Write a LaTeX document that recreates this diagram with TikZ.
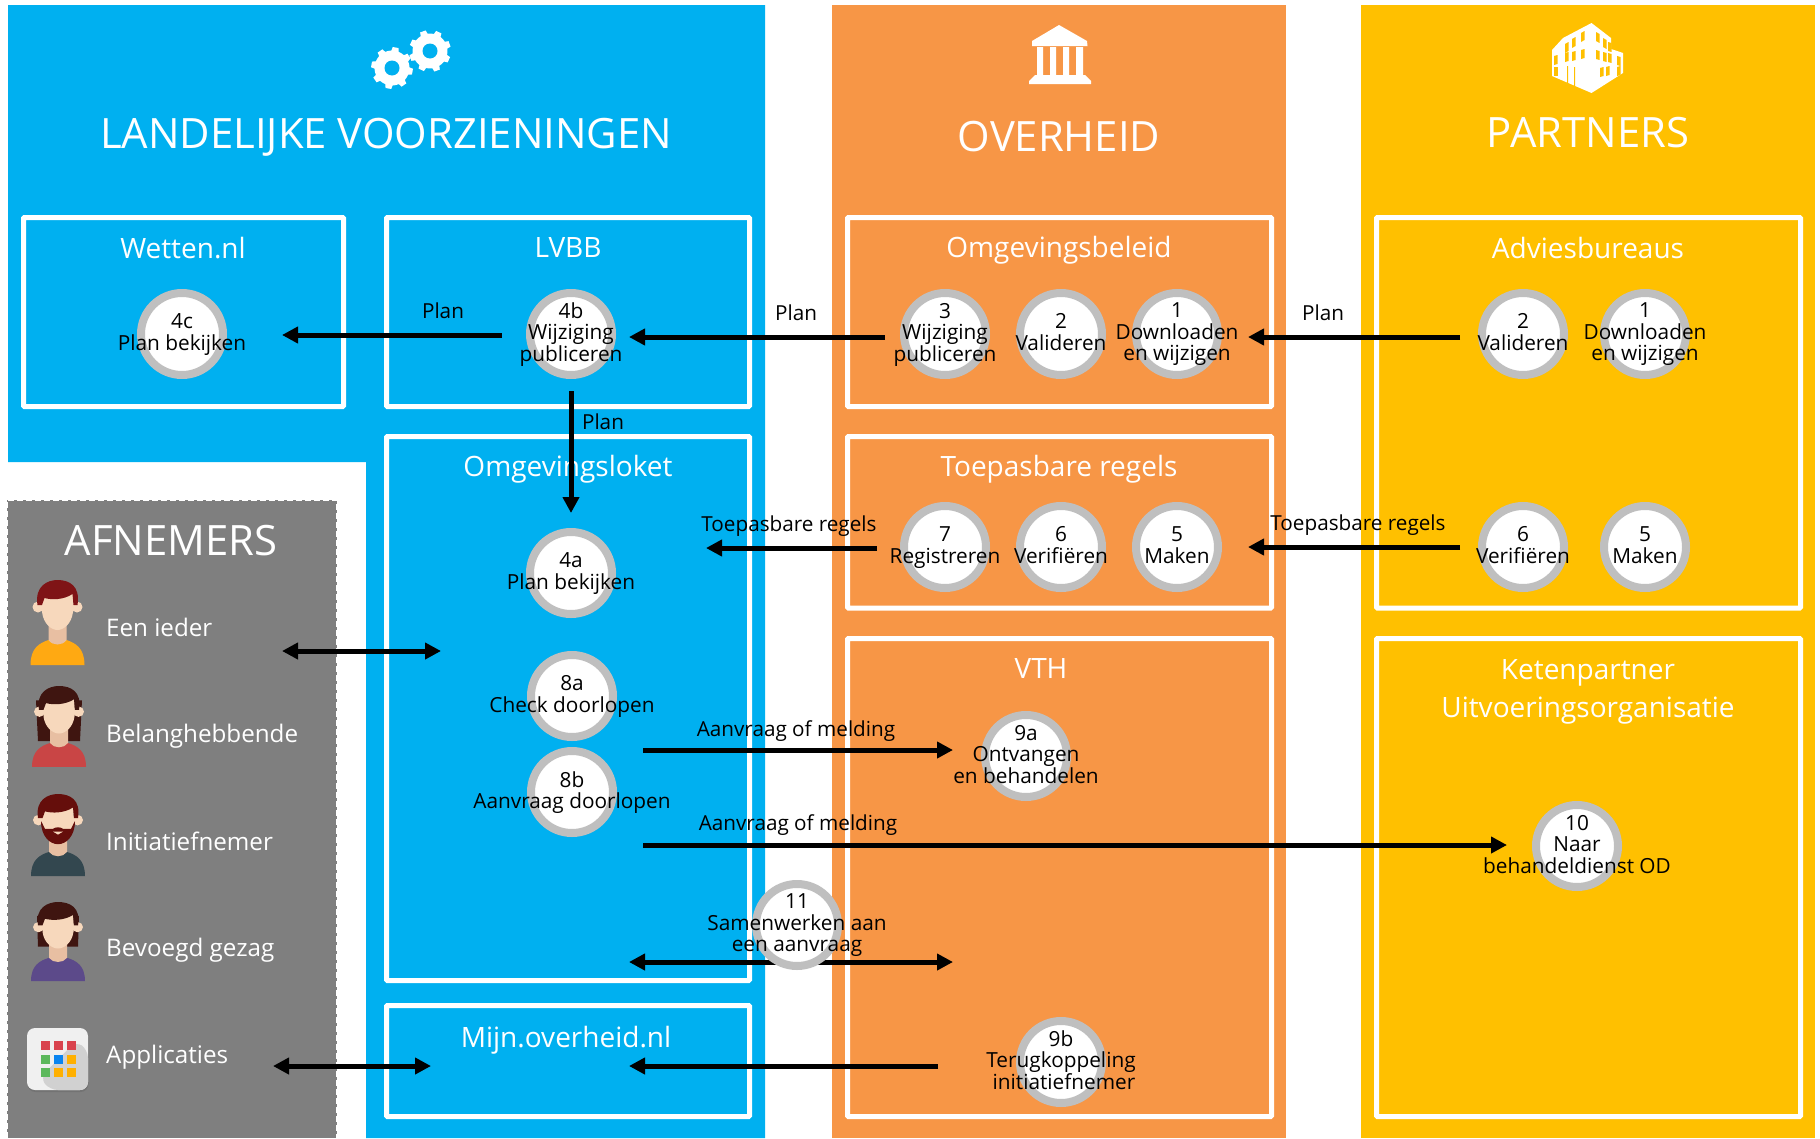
\documentclass[tikz,border=0pt]{standalone}
\usepackage{fontspec}
\setmainfont{Open Sans}
\usetikzlibrary{arrows.meta,calc}
\definecolor{pblue}{HTML}{00B0F0}
\definecolor{porange}{HTML}{F79646}
\definecolor{pyellow}{HTML}{FFC000}
\definecolor{pgrey}{HTML}{7F7F7F}
\definecolor{pring}{HTML}{BFBFBF}
\definecolor{skin}{HTML}{F7D8BC}
\definecolor{skind}{HTML}{E8BFA2}
\pgfdeclarelayer{panels}
\pgfdeclarelayer{conns}
\pgfsetlayers{panels,conns,main}
\tikzset{
  boxn/.style={draw=white,line width=5pt,rounded corners=1pt,outer sep=0pt,inner sep=0pt,anchor=north west},
  ringn/.style={circle,draw=pring,fill=white,line width=8pt,minimum size=82pt,inner sep=0pt,outer sep=0pt},
  steptxt/.style={align=center,inner sep=0pt,text=black,font=\fontsize{20.8}{21.5}\selectfont},
  arrtxt/.style={inner sep=0pt,text=black,font=\fontsize{20.7}{22}\selectfont},
  headtxt/.style={inner sep=0pt,text=white,font=\fontsize{41.8}{46}\selectfont},
  subtxt/.style={inner sep=0pt,text=white,align=center,font=\fontsize{28}{38}\selectfont},
  afntxt/.style={inner sep=0pt,text=white,anchor=west,font=\fontsize{24.2}{26}\selectfont},
  conn/.style={line width=5pt,-{Triangle[length=16pt,width=16pt]}},
  connb/.style={line width=5pt,{Triangle[length=16pt,width=16pt]}-{Triangle[length=16pt,width=16pt]}},
}
\newcommand{\bx}[5]{\node[boxn,minimum width={(#4-#2)*1pt},minimum height={(#5-#3)*1pt}] (#1) at (#2,#3) {};}
\newcommand{\stepc}[4]{\node[ringn] (#1) at (#2,#3) {};\node[steptxt] (#1t) at ([yshift=-0.5pt]#1.center) {#4\vphantom{g}};}
\newcommand{\gearicon}[3]{%
  \fill[white] ({#1+17.5*cos(-22.5+#3)},{#2+17.5*sin(-22.5+#3)}) \foreach \a in {0,45,...,315}{%
    -- ({#1+17.5*cos(\a-12+#3)},{#2+17.5*sin(\a-12+#3)})
    -- ({#1+21*cos(\a-8+#3)},{#2+21*sin(\a-8+#3)})
    -- ({#1+21*cos(\a+8+#3)},{#2+21*sin(\a+8+#3)})
    -- ({#1+17.5*cos(\a+12+#3)},{#2+17.5*sin(\a+12+#3)})
    -- ({#1+17.5*cos(\a+22.5+#3)},{#2+17.5*sin(\a+22.5+#3)})} -- cycle;
  \fill[pblue] (#1,#2) circle (7.5);}
\newcommand{\personicon}[7]{%
  \begin{scope}[shift={(#1,#2)},yscale=#3]
    #6
    \fill[#4] (-27,85) .. controls (-27,68) and (-18,63) .. (-9,60) -- (9,60) .. controls (18,63) and (27,68) .. (27,85) -- cycle;
    \fill[skind] (-9,40) -- (9,40) -- (9,60) .. controls (5,66) and (-5,66) .. (-9,60) -- cycle;
    \fill[skin] (-19.5,27) circle (5.5) (19.5,27) circle (5.5);
    \fill[skin] (-15.5,12) -- (15.5,12) -- (15.5,32) .. controls (14,44) and (6,50) .. (0,50) .. controls (-6,50) and (-14,44) .. (-15.5,32) -- cycle;
    \fill[#5] (-20,25) .. controls (-23,6) and (-10,0) .. (0,0) .. controls (12,0) and (23,6) .. (20,25) -- (16,25) -- (15,14) .. controls (6,20) and (-6,20) .. (-13,18) -- (-15.5,25) -- cycle;
    #7
  \end{scope}}
\definecolor{hairdark}{HTML}{3F1510}
\definecolor{hairred}{HTML}{7F1416}
\definecolor{hairbrown}{HTML}{650E0B}
\definecolor{shirta}{HTML}{FFA912}
\definecolor{shirtb}{HTML}{C94545}
\definecolor{shirtc}{HTML}{33474F}
\definecolor{shirtd}{HTML}{5C4A8A}
\definecolor{tilered}{HTML}{D9434E}
\definecolor{tilegreen}{HTML}{5CB85C}
\definecolor{tileblue}{HTML}{0A84F0}
\definecolor{tileorange}{HTML}{FFB000}
\begin{document}
\begin{tikzpicture}[x=1pt,y=-1pt]
\useasboundingbox (0,0) rectangle (1820,1138);
\begin{pgfonlayer}{panels}
  \fill[white] (0,0) rectangle (1820,1138);
  % panels
  \fill[pblue] (8,5) -- (765,5) -- (765,1138) -- (366,1138) -- (366,462) -- (8,462) -- cycle;
  \fill[porange] (832,5) rectangle (1286,1138);
  \fill[pyellow] (1361,5) rectangle (1815,1138);
  \node[fill=pgrey,anchor=north west,minimum width=330pt,minimum height=638pt,inner sep=0pt,outer sep=0pt] (afnpanel) at (7,500) {};
  \draw[white,line width=1.6pt,dash pattern=on 6pt off 3pt] (7,1138) -- (7,500) -- (337,500) -- (337,1138);
  % boxes
  \bx{wetten}{23.5}{217.5}{343.5}{406.5}
  \bx{lvbb}{386.5}{217.5}{749.5}{406.5}
  \bx{loket}{386.5}{436.5}{749.5}{980.5}
  \bx{mijn}{386.5}{1005.5}{749.5}{1116.5}
  \bx{beleid}{847.5}{217.5}{1271.5}{406.5}
  \bx{regels}{847.5}{436.5}{1271.5}{608}
  \bx{vth}{847.5}{638.5}{1271.5}{1116.5}
  \bx{advies}{1376.5}{217.5}{1800.5}{608}
  \bx{keten}{1376.5}{638.5}{1800.5}{1116.5}
  % headings
  \node[headtxt] (hlv) at (386,137) {LANDELIJKE VOORZIENINGEN};
  \node[headtxt] (hov) at (1059,137) {OVERHEID};
  \node[headtxt] (hpa) at (1588,133) {PARTNERS};
  \node[headtxt] (haf) at (171,541) {AFNEMERS};
  \node[subtxt] (twetten) at (183,248) {Wetten.nl};
  \node[subtxt] (tlvbb) at (568,248) {LVBB};
  \node[subtxt] (tloket) at (568,469) {Omgevingsloket};
  \node[subtxt] (tmijn) at (566,1040) {Mijn.overheid.nl};
  \node[subtxt] (tbeleid) at (1059,250) {Omgevingsbeleid};
  \node[subtxt] (tregels) at (1059,469) {Toepasbare regels};
  \node[subtxt] (tvth) at (1041,668) {VTH};
  \node[subtxt] (tadvies) at (1588,248) {Adviesbureaus};
  \node[subtxt] (tketen) at (1588,692) {Ketenpartner\\Uitvoeringsorganisatie};
  % gears
  \gearicon{392}{68}{10}
  \gearicon{430}{51}{25}
  % bank
  \fill[white] (1059,25) -- (1087,41) -- (1087.5,46) -- (1032,46) -- (1032,41) -- cycle;
  \fill[white] (1037,47) rectangle (1043,76) (1050,47) rectangle (1056,76) (1063,47) rectangle (1069,76) (1076,47) rectangle (1083,76);
  \fill[white] (1035,75) -- (1085,75) -- (1091,81) -- (1091,84) -- (1029,84) -- (1029,81) -- cycle;
  % building
  \fill[white] (1591.5,23) -- (1611,38) -- (1611,49) -- (1623,53) -- (1623,73) -- (1591.5,93) -- (1552,76) -- (1552,50) -- (1563,38) -- cycle;
  \foreach \wx/\wy/\wd in {1565/44/-2,1572/39/-2,1581/33/-2,1596/32/2,1603/38/2,1608/42/1,
      1554/56/-1,1565/53/-1,1572/52/-1,1581/50/-1,1596/50/1,1603/52/1,1608/53/1,1617/56/1,
      1554/67/0,1600/68/-1,1606/67/-1,1617/67/-1}{
    \fill[pyellow] (\wx,\wy) -- ++(3.5,\wd) -- ++(0,9) -- ++(-3.5,-\wd) -- cycle;}
  \fill[pyellow] (1567,66) rectangle (1568,86) (1574,67) rectangle (1575,88);
\end{pgfonlayer}
% afnemers icons
\personicon{57.5}{580}{1}{shirta}{hairred}{}{}
\personicon{59}{686}{0.95}{shirtb}{hairdark}{\fill[hairdark] (-23,15) -- (23,15) -- (21,58) -- (-21,58) -- cycle;}{}
\personicon{58}{794}{0.965}{shirtc}{hairbrown}{}{\fill[hairbrown] (-17,28) -- (-13,36) -- (-5,36) .. controls (-2,34) and (2,34) .. (5,36) -- (13,36) -- (17,28) .. controls (17,44) and (8,52) .. (0,52) .. controls (-8,52) and (-17,44) .. (-17,28) -- cycle;\fill[skin] (-5,39) -- (5,39) -- (0,42) -- cycle;}
\personicon{58}{902}{0.93}{shirtd}{hairdark}{\fill[hairdark] (-21,15) -- (21,15) -- (20,48) -- (-20,48) -- cycle;}{}
\fill[black!55,rounded corners=8pt] (27.5,1030) rectangle (88.5,1092);
\fill[black!6,rounded corners=8pt] (27,1028) rectangle (88,1090);
\fill[black!18,rounded corners=8pt] (88,1050) -- (88,1090) -- (50,1090) -- (40,1078) -- (76,1041) -- cycle;
\foreach \sx/\sy/\sc in {41/1041/tilered,54/1041/tilered,67/1041/tilered,
    41/1055/tilegreen,54/1055/tileblue,67/1055/tileorange,
    41/1068/tilegreen,54/1068/tileorange,67/1068/tileorange}{
  \fill[\sc] (\sx,\sy) rectangle ++(8.5,8.5);}
\node[afntxt] (een) at (106,627) {Een ieder};
\node[afntxt] (bel) at (106,736) {Belanghebbende};
\node[afntxt] (ini) at (106,841) {Initiatiefnemer};
\node[afntxt] (bev) at (106,950) {Bevoegd gezag};
\node[afntxt] (app) at (106,1057) {Applicaties};
% circles
\stepc{cvc}{182}{334}{4c\\Plan bekijken}
\stepc{cvb}{571}{334}{4b\\Wijziging\\publiceren}
\stepc{cva}{571}{573}{4a\\Plan bekijken}
\stepc{cea}{572}{696}{8a\\Check doorlopen}
\stepc{ceb}{572}{792}{8b\\Aanvraag doorlopen}
\stepc{co3}{945}{334}{3\\Wijziging\\publiceren}
\stepc{co2}{1061}{334}{2\\Valideren}
\stepc{co1}{1177}{334}{1\\Downloaden\\en wijzigen}
\stepc{ct7}{945}{547}{7\\Registreren}
\stepc{ct6}{1061}{547}{6\\Verifiëren}
\stepc{ct5}{1177}{547}{5\\Maken}
\stepc{cna}{1026}{756}{9a\\Ontvangen\\en behandelen}
\stepc{cnb}{1061}{1062}{9b\\Terugkoppeling\\\hspace*{6pt}initiatiefnemer}
\stepc{cel}{797}{925}{11\\Samenwerken aan\\een aanvraag}
\stepc{cp2}{1523}{334}{2\\Valideren}
\stepc{cp1}{1645}{334}{1\\Downloaden\\en wijzigen}
\stepc{cp6}{1523}{547}{6\\Verifiëren}
\stepc{cp5}{1645}{547}{5\\Maken}
\stepc{cti}{1577}{846}{10\\Naar\\behandeldienst OD}
% free connector ends
\coordinate (tregelsend) at (706,548);
\coordinate (eenl) at (282,651);
\coordinate (eenr) at (441,651);
\coordinate (appl) at (273,1066);
\coordinate (appr) at (431,1066);
\coordinate (aanvs) at (643,750);
\coordinate (aanve) at (953,750);
\coordinate (aanwa) at (643,845);
\coordinate (aanwe) at (1507,845);
\coordinate (samenl) at (629,962);
\coordinate (samenr) at (953,962);
\coordinate (terug) at (629,1066);
\begin{pgfonlayer}{conns}
  \draw[conn,shorten <=69pt,shorten >=100pt] ([yshift=-1pt]cvb.center) -- ([yshift=-1pt]cvc.center);
  \draw[conn,shorten <=60pt,shorten >=58pt] ([yshift=-3pt]co3.center) -- ([yshift=-3pt]cvb.center);
  \draw[conn,shorten <=63pt,shorten >=71pt] ([yshift=-3pt]cp2.center) -- ([yshift=-3pt]co1.center);
  \draw[conn,shorten <=57pt,shorten >=60pt] (cvb.center) -- (cva.center);
  \draw[conn,shorten <=68pt] ([yshift=-1pt]ct7.center) -- (tregelsend);
  \draw[conn,shorten <=63pt,shorten >=71pt] (cp6.center) -- (ct5.center);
  \draw[connb] (eenl) -- (eenr);
  \draw[connb] (appl) -- (appr);
  \draw[conn] (aanvs) -- (aanve);
  \draw[conn] (aanwa) -- (aanwe);
  \draw[connb] (samenl) -- (samenr);
  \draw[conn,shorten <=123pt] ([yshift=-4pt]cnb.center) -- (terug);
\end{pgfonlayer}
% connector labels
\node[arrtxt] (lp1) at (443,311) {Plan};
\node[arrtxt] (lp2) at (796,313) {Plan};
\node[arrtxt] (lp3) at (603,422) {Plan};
\node[arrtxt] (lp4) at (1323,313) {Plan};
\node[arrtxt] (lr1) at (789,526) {Toepasbare regels};
\node[arrtxt] (lr2) at (1358,525) {Toepasbare regels};
\node[arrtxt] (la1) at (796,731) {Aanvraag of melding};
\node[arrtxt] (la2) at (798,825) {Aanvraag of melding};
\end{tikzpicture}
\end{document}
